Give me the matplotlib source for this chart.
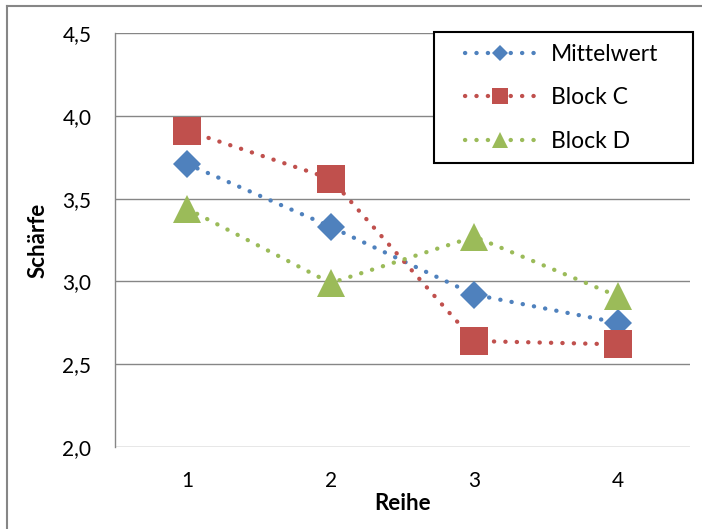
import matplotlib.pyplot as plt
from matplotlib.lines import Line2D
from matplotlib.patches import Rectangle

# Werte
reihe = [1, 2, 3, 4]
mittelwert = [3.71, 3.33, 2.92, 2.75]
block_c = [3.91, 3.62, 2.64, 2.62]
block_d = [3.44, 2.99, 3.27, 2.91]

series = [
    ('Mittelwert', mittelwert, '#4F81BD', 'D', 14),
    ('Block C', block_c, '#C0504D', 's', 20),
    ('Block D', block_d, '#9BBB59', '^', 20),
]

plt.rcParams['font.family'] = ['Lato', 'DejaVu Sans']
dots = (0, (0.05, 2.6))

fig = plt.figure(figsize=(7.02, 5.29), dpi=100)
ax = fig.add_axes([115 / 702, 82 / 529, 575 / 702, 414 / 529])

for name, vals, col, mk, ms in series:
    ax.plot(reihe, vals, color=col, linewidth=3.1, linestyle=dots,
            dash_capstyle='round', marker=mk, markersize=ms,
            markeredgewidth=0, label=name, zorder=3)

ax.set_xlim(0.5, 4.5)
ax.set_ylim(2.0, 4.5)
ax.set_xticks(reihe)
ax.set_yticks([2.0, 2.5, 3.0, 3.5, 4.0, 4.5])
ax.set_yticklabels(['2,0', '2,5', '3,0', '3,5', '4,0', '4,5'])
ax.tick_params(length=0, labelsize=15, pad=17)
ax.grid(axis='y', color='#868686', linewidth=1.0)
ax.set_axisbelow(True)
for s in ['top', 'right', 'bottom']:
    ax.spines[s].set_visible(False)
ax.spines['left'].set_color('#868686')
ax.spines['left'].set_linewidth(1.0)

ax.set_xlabel('Reihe', fontsize=16, fontweight='bold', labelpad=2)
ax.set_ylabel('Schärfe', fontsize=16, fontweight='bold', labelpad=10)

handles, labels = ax.get_legend_handles_labels()
leg = fig.legend(handles, labels, loc='upper left',
                 bbox_to_anchor=(465 / 702, 1 - 44 / 529),
                 fontsize=16.5, handlelength=3.05, labelspacing=0.98,
                 borderpad=0, handletextpad=0.7, borderaxespad=0,
                 frameon=False, markerscale=0.55)
leg.set_zorder(5)

# Rahmen der Legende
fig.add_artist(Rectangle((434 / 702, 1 - 163 / 529), 259 / 702, 131 / 529,
                         fill=True, facecolor='white', edgecolor='black',
                         linewidth=1.5, transform=fig.transFigure, zorder=4))

# Rahmen des Diagrammbereichs
fig.add_artist(Line2D([7 / 702, 7 / 702], [0, 1 - 6 / 529], color='#868686',
                      linewidth=1.5, transform=fig.transFigure))
fig.add_artist(Line2D([7 / 702, 1], [1 - 6 / 529, 1 - 6 / 529], color='#868686',
                      linewidth=1.5, transform=fig.transFigure))

fig.savefig('out.png', dpi=100)
